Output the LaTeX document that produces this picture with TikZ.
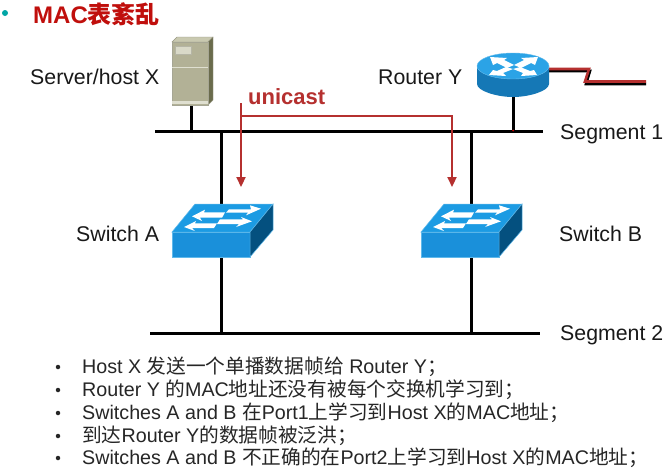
\documentclass[tikz,border=0pt]{standalone}
\usepackage{fontspec}
\setmainfont{Liberation Sans}
\newfontfamily\cjk{Noto Sans CJK SC}
\newcommand{\zh}[1]{{\cjk #1}}
\usetikzlibrary{arrows.meta}
\definecolor{swtop}{HTML}{1C9BE3}
\definecolor{swfront}{HTML}{1A90DA}
\definecolor{swside}{HTML}{04507F}
\definecolor{rttop}{HTML}{2BA3E6}
\definecolor{rtside}{HTML}{1578B6}
\definecolor{srvfront}{HTML}{B2B196}
\definecolor{srvtop}{HTML}{C9C9B0}
\definecolor{srvside}{HTML}{6A6B4C}
\definecolor{flow}{HTML}{B5302F}
\definecolor{heading}{HTML}{C00F0C}
\tikzset{
  x=1pt, y=-1pt,
  label text/.style={font=\fontsize{21.3}{25}\selectfont, text=black!90, inner sep=0pt},
  bullet text/.style={font=\fontsize{19.7}{22}\selectfont, text=black!85, inner sep=0pt, anchor=west},
  bullet dot/.style={circle, fill=black!85, minimum size=4.5pt, inner sep=0pt},
  bus/.style={line width=3pt, black},
  stem/.style={line width=3pt, black},
  flow line/.style={line width=2.2pt, flow},
  flow arrow/.style={flow line, -{Triangle[length=10pt,width=9pt]}},
  arrow white/.style={fill=white, draw=none},
}
% Switch icon, drawn around its top-left front corner
\newcommand{\switchicon}[2]{%
  \begin{scope}[shift={(#1,#2)}]
    \fill[swfront, draw=swtop!70!white, line width=0.5pt] (0,0) rectangle (78,25);
    \fill[swtop, draw=swtop!70!white, line width=0.5pt] (0,0) -- (78,0) -- (101,-28) -- (23,-28) -- cycle;
    \fill[swside, draw=swtop!70!white, line width=0.5pt] (78,0) -- (101,-28) -- (101,-2) -- (78,25) -- cycle;
    % upper pair of arrows
    \fill[arrow white] (57,-22.7) -- (79,-22.7) -- (78,-26.7) -- (89,-23.3) -- (74,-16.7) -- (76,-19.3) -- (54,-19.3) -- cycle;
    \fill[arrow white] (20,-15.7) -- (33,-22.3) -- (32,-19.6) -- (53,-19.6) -- (50,-14.3) -- (28,-14.3) -- (30,-11) -- cycle;
    % lower pair of arrows
    \fill[arrow white] (48,-12.7) -- (71,-12.7) -- (69,-15) -- (80,-10.7) -- (64,-5) -- (67,-8) -- (45,-8) -- cycle;
    \fill[arrow white] (12,-5) -- (24,-11) -- (23,-8.7) -- (45,-8.7) -- (42,-4) -- (20,-4) -- (23,-1) -- cycle;
  \end{scope}}
\begin{document}
\begin{tikzpicture}
  \useasboundingbox (0,0) rectangle (668,469);
  \fill[white] (0,0) rectangle (668,469);

  % Heading
  \node[circle, fill=teal!70!cyan, minimum size=6pt, inner sep=0pt] (hdot) at (5,13) {};
  \node[anchor=west, inner sep=0pt, text=heading, font=\fontsize{24}{26}\selectfont\bfseries] (title) at (33,14) {MAC{\cjk\bfseries 表紊乱}};

  % Attachment points
  \coordinate (s1l) at (155,131);
  \coordinate (s1r) at (543,131);
  \coordinate (s2l) at (150,333);
  \coordinate (s2r) at (540,333);
  \coordinate (hosttap) at (191,131);
  \coordinate (hostfoot) at (191,100);
  \coordinate (rttap) at (513,131);
  \coordinate (rtfoot) at (513,92);
  \coordinate (atop) at (221,131);
  \coordinate (abot) at (221,333);
  \coordinate (btop) at (471,131);
  \coordinate (bbot) at (471,333);

  % Ethernet segments and drops
  \draw[bus] (s1l) -- (s1r);
  \draw[bus] (s2l) -- (s2r);
  \draw[stem] (hostfoot) -- (hosttap);
  \draw[stem] (rtfoot) -- (rttap);
  \draw[stem] (atop) -- (abot);
  \draw[stem] (btop) -- (bbot);
  \fill[red!80!black] (513,130.5) circle (1pt);

  % Switches
  \switchicon{172}{232}
  \switchicon{421}{232}

  % Server
  \fill[srvtop, draw=srvside!70, line width=0.4pt] (172,42) -- (177,37) -- (213,37) -- (208,42) -- cycle;
  \fill[srvside, draw=srvside!70, line width=0.4pt] (208,42) -- (213,37) -- (213,100) -- (208,105) -- cycle;
  \fill[srvfront, draw=srvside!60, line width=0.4pt] (172,42) rectangle (208,105);
  \draw[srvtop!60!white, line width=0.7pt] (172,67) -- (208,67);
  \fill[srvtop!70!white, draw=srvside!50, line width=0.4pt] (175,46) rectangle (191,54);
  \fill[srvtop!60!white] (172,101) rectangle (208,104);

  % Router with its serial link
  \draw[black, line width=2.6pt] (549,71) -- (590,71) -- (586,84) -- (646,84);
  \draw[flow, line width=2.6pt] (549,69) -- (589,69) -- (585,81.5) -- (646,81.5);
  \fill[rtside] (477,66) -- (477,84) .. controls (477,91) and (497,97) .. (513,97) .. controls (529,97) and (549,91) .. (549,84) -- (549,66) -- cycle;
  \fill[rttop, draw=rttop!70!white, line width=0.4pt] (513,66) ellipse[x radius=36, y radius=13];
  \fill[arrow white] (490,57) -- (507,58) -- (504,60) -- (514,65) -- (507,68) -- (497,63) -- (493,65) -- cycle;
  \fill[arrow white] (538,57) -- (521,58) -- (524,60) -- (514,65) -- (521,68) -- (531,63) -- (535,65) -- cycle;
  \fill[arrow white] (489,75) -- (506,76) -- (503,73) -- (513,69) -- (506,67) -- (497,71) -- (493,70) -- cycle;
  \fill[arrow white] (537,75) -- (521,76) -- (523,73) -- (513,69) -- (520,67) -- (530,71) -- (534,70) -- cycle;

  % Unicast flow
  \coordinate (flowstart) at (241,103);
  \coordinate (flowcorner) at (241,116);
  \coordinate (flowa) at (241,187);
  \coordinate (flowturn) at (452,116);
  \coordinate (flowb) at (452,187);
  \draw[flow arrow] (flowstart) -- (flowa);
  \draw[flow arrow] (flowcorner) -- (flowturn) -- (flowb);
  \node[anchor=west, inner sep=0pt, text=flow, font=\fontsize{22}{24}\selectfont\bfseries] (unicast) at (248,97) {unicast};

  % Device and segment labels
  \node[label text, anchor=west] (lhost) at (30,77) {Server/host X};
  \node[label text, anchor=west] (lrouter) at (378,77) {Router Y};
  \node[label text, anchor=west] (lseg1) at (560,134) {Segment 1};
  \node[label text, anchor=west] (lseg2) at (560,335) {Segment 2};
  \node[label text, anchor=west] (lswa) at (76,234) {Switch A};
  \node[label text, anchor=west] (lswb) at (559,234) {Switch B};

  % Bullet list
  \foreach \yy in {367,390,413,436,458} \node[bullet dot] at (58,\yy) {};
  \node[bullet text] (b1) at (82,367) {Host X \zh{发送一个单播数据帧给} Router Y\zh{；}};
  \node[bullet text] (b2) at (82,390) {Router Y \zh{的}MAC\zh{地址还没有被每个交换机学习到；}};
  \node[bullet text] (b3) at (82,413) {Switches A and B \zh{在}Port1\zh{上学习到}Host X\zh{的}MAC\zh{地址；}};
  \node[bullet text] (b4) at (82,436) {\zh{到达}Router Y\zh{的数据帧被泛洪；}};
  \node[bullet text] (b5) at (82,458) {Switches A and B \zh{不正确的在}Port2\zh{上学习到}Host X\zh{的}MAC\zh{地址；}};
\end{tikzpicture}
\end{document}
